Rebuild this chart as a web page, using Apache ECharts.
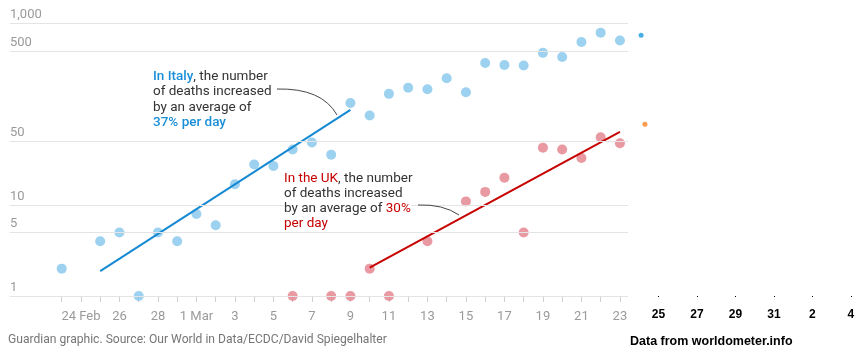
<!DOCTYPE html>
<html>
<head>
<meta charset="utf-8">
<script src="https://cdn.jsdelivr.net/npm/echarts@6.0.0/dist/echarts.min.js"></script>
<style>
  html, body { margin: 0; padding: 0; background: #fff; }
  #main { width: 859px; height: 352px; }
</style>
</head>
<body>
<div id="main"></div>
<script>
// day index 0 = 23 Feb 2020
var italyDays = [0, 2, 3, 4, 5, 6, 7, 8, 9, 10, 11, 12, 13, 14, 15, 16, 17, 18, 19, 20, 21, 22, 23, 24, 25, 26, 27, 28, 29];
var italyDeaths = [2, 4, 5, 1, 5, 4, 8, 6, 17, 28, 27, 41, 49, 36, 133, 97, 168, 196, 189, 250, 175, 368, 349, 345, 475, 427, 627, 793, 651];

var ukDays = [12, 14, 15, 16, 17, 19, 21, 22, 23, 24, 25, 26, 27, 28, 29];
var ukDeaths = [1, 1, 1, 2, 1, 4, 11, 14, 20, 5, 43, 41, 33, 56, 48];

// fitted trend lines (start / end)
var italyTrend = [[2, 1.88], [15, 112]];
var ukTrend = [[16, 2.05], [29, 64]];

// worldometer extra points (24 Mar)
var italyExtra = [[30.1, 743]];
var ukExtra = [[30.3, 78]];

var yTicks = [1, 5, 10, 50, 500, 1000];
var yTickLabels = ['1', '5', '10', '50', '500', '1,000'];

var tickDays = [];
for (var d = 0; d <= 29; d++) tickDays.push(d);
var labelDays = [1, 3, 5, 7, 9, 11, 13, 15, 17, 19, 21, 23, 25, 27, 29];
var labelText = ['24 Feb', '26', '28', '1 Mar', '3', '5', '7', '9', '11', '13', '15', '17', '19', '21', '23'];

var extraDays = [31, 33, 35, 37, 39, 41];
var extraText = ['25', '27', '29', '31', '2', '4'];

var font = 'Roboto, "Noto Sans", sans-serif';

var chart = echarts.init(document.getElementById('main'));

// white box behind each annotation line so the gridlines stop at the text
var txt = { fill: '#333', fontSize: 13.5, fontFamily: font, lineHeight: 15.3, backgroundColor: '#fff' };

var option = {
  animation: false,
  grid: [
    { left: 10, top: 23.5, width: 618, height: 272.5 },
    { left: 628, top: 23.5, width: 231, height: 272.5 }
  ],
  xAxis: [
    {
      type: 'value', gridIndex: 0, min: -2.686, max: 29.42,
      axisLine: { show: false },
      splitLine: { show: false },
      axisTick: { show: true, customValues: tickDays, length: 6, lineStyle: { color: '#cfcfcf' } },
      axisLabel: {
        customValues: labelDays, margin: 14, color: '#9a9a9a', fontSize: 13, fontFamily: font,
        formatter: function (v) { return labelText[labelDays.indexOf(v)]; }
      }
    },
    {
      type: 'value', gridIndex: 1, min: 29.42, max: 41.42,
      axisLine: { show: false },
      splitLine: { show: false },
      axisTick: { show: true, customValues: extraDays, length: 1, lineStyle: { color: '#000' } },
      axisLabel: {
        customValues: extraDays, margin: 13, color: '#000', fontSize: 12, fontWeight: 'bold',
        fontFamily: '"Liberation Sans", Arial, sans-serif',
        formatter: function (v) { return extraText[extraDays.indexOf(v)]; }
      }
    }
  ],
  yAxis: [
    { type: 'log', logBase: 10, gridIndex: 0, min: 1, max: 1000, show: false },
    { type: 'log', logBase: 10, gridIndex: 1, min: 1, max: 1000, show: false }
  ],
  series: [
    {
      type: 'scatter', name: 'grid', data: [], silent: true, z: 1,
      markLine: {
        silent: true, symbol: 'none', animation: false,
        lineStyle: { color: '#e4e4e4', width: 1.2, type: 'solid' },
        label: {
          position: 'insideStartTop', distance: [0, 2], formatter: '{b}',
          color: '#9a9a9a', fontSize: 13, fontFamily: font
        },
        emphasis: { disabled: true },
        data: yTicks.map(function (v, i) { return { yAxis: v, name: yTickLabels[i] }; })
      }
    },
    {
      type: 'scatter', name: 'Italy', symbolSize: 10,
      itemStyle: { color: '#85c6ec' },
      data: italyDays.map(function (d, i) { return [d, italyDeaths[i]]; })
    },
    {
      type: 'scatter', name: 'UK', symbolSize: 10,
      itemStyle: { color: '#e4808a' },
      data: ukDays.map(function (d, i) { return [d, ukDeaths[i]]; })
    },
    {
      type: 'line', name: 'Italy trend', data: italyTrend, showSymbol: false, symbol: 'none',
      lineStyle: { color: '#1689d3', width: 2 }
    },
    {
      type: 'line', name: 'UK trend', data: ukTrend, showSymbol: false, symbol: 'none',
      lineStyle: { color: '#c70000', width: 2 }
    },
    {
      type: 'scatter', xAxisIndex: 1, yAxisIndex: 1, symbolSize: 5,
      itemStyle: { color: '#1a9be0' }, data: italyExtra
    },
    {
      type: 'scatter', xAxisIndex: 1, yAxisIndex: 1, symbolSize: 5,
      itemStyle: { color: '#ff7f1e' }, data: ukExtra
    }
  ],
  graphic: [
    {
      type: 'text', left: 153, top: 69, z: 100,
      style: {
        text: '{a|In Italy}{t|, the number}\n{t|of deaths increased}\n{t|by an average of}\n{a|37% per day}',
        font: '13.5px ' + font, fill: '#333', lineHeight: 15.3,
        rich: {
          t: txt,
          a: Object.assign({}, txt, { fill: '#1a8fd8', fontWeight: 500 })
        }
      }
    },
    {
      type: 'text', left: 284, top: 170.5, z: 100,
      style: {
        text: '{r|In the UK}{t|, the number}\n{t|of deaths increased}\n{t|by an average of }{r|30%}\n{r|per day}',
        font: '13.5px ' + font, fill: '#333', lineHeight: 15.3,
        rich: {
          t: txt,
          r: Object.assign({}, txt, { fill: '#c70000' })
        }
      }
    },
    {
      type: 'bezierCurve', z: 100,
      shape: { x1: 277, y1: 89, cpx1: 322, cpy1: 88, x2: 337, y2: 115 },
      style: { stroke: '#444', lineWidth: 1, fill: null }
    },
    {
      type: 'bezierCurve', z: 100,
      shape: { x1: 418, y1: 205, cpx1: 443, cpy1: 204, x2: 459, y2: 215 },
      style: { stroke: '#444', lineWidth: 1, fill: null }
    },
    {
      type: 'text', left: 8, top: 334,
      style: {
        text: 'Guardian graphic. Source: Our World in Data/ECDC/David Spiegelhalter',
        font: '12.1px ' + font, fill: '#767676'
      }
    },
    {
      type: 'text', left: 630, top: 335,
      style: {
        text: 'Data from worldometer.info',
        font: 'bold 12.5px "Liberation Sans", Arial, sans-serif', fill: '#000'
      }
    }
  ]
};

chart.setOption(option);
</script>
</body>
</html>
